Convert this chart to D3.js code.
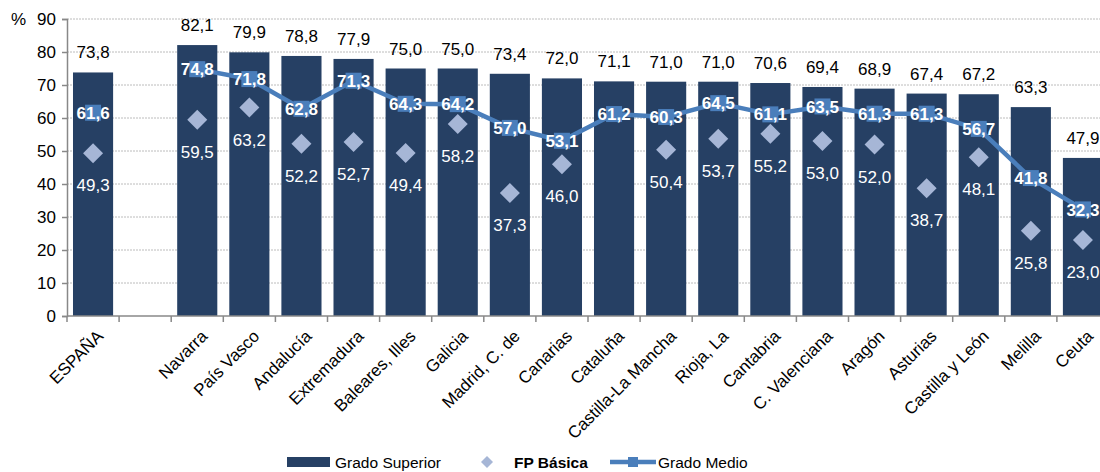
<!DOCTYPE html>
<html>
<head>
<meta charset="utf-8">
<script src="https://cdn.jsdelivr.net/npm/d3@7"></script>
<style>
  body { margin: 0; background: #fff; }
  svg { display: block; font-family: "Liberation Sans", Arial, sans-serif; }
</style>
</head>
<body>
<div id="chart"></div>
<script>
// categories (the empty slot separates ESPAÑA from the regions)
const categories = ["ESPAÑA", "", "Navarra", "País Vasco", "Andalucía", "Extremadura",
  "Baleares, Illes", "Galicia", "Madrid, C. de", "Canarias", "Cataluña",
  "Castilla-La Mancha", "Rioja, La", "Cantabria", "C. Valenciana", "Aragón",
  "Asturias", "Castilla y León", "Melilla", "Ceuta"];

const gradoSuperior = [73.8, null, 82.1, 79.9, 78.8, 77.9, 75.0, 75.0, 73.4, 72.0, 71.1,
  71.0, 71.0, 70.6, 69.4, 68.9, 67.4, 67.2, 63.3, 47.9];
const gradoMedio = [61.6, null, 74.8, 71.8, 62.8, 71.3, 64.3, 64.2, 57.0, 53.1, 61.2,
  60.3, 64.5, 61.1, 63.5, 61.3, 61.3, 56.7, 41.8, 32.3];
const fpBasica = [49.3, null, 59.5, 63.2, 52.2, 52.7, 49.4, 58.2, 37.3, 46.0, null,
  50.4, 53.7, 55.2, 53.0, 52.0, 38.7, 48.1, 25.8, 23.0];
const yTicks = [0, 10, 20, 30, 40, 50, 60, 70, 80, 90];

const W = 1100, H = 472;
const fmt = v => v.toFixed(1).replace(".", ",");

const svg = d3.select("#chart").append("svg")
  .attr("width", W).attr("height", H);

const x = d3.scaleBand().domain(d3.range(categories.length))
  .range([67, 1109]).paddingInner(0.23).paddingOuter(0.115);
const y = d3.scaleLinear().domain([0, 90]).range([316, 19]);
const cx = i => x(i) + x.bandwidth() / 2;

// gridlines
svg.append("g").selectAll("line").data(yTicks.slice(1)).join("line")
  .attr("x1", 67).attr("x2", W)
  .attr("y1", d => y(d)).attr("y2", d => y(d))
  .attr("stroke", "#bcbcbc").attr("stroke-dasharray", "2,1").attr("stroke-width", 1);

// bars
const barData = gradoSuperior.map((v, i) => ({ v, i })).filter(d => d.v != null);
svg.append("g").selectAll("rect").data(barData).join("rect")
  .attr("x", d => x(d.i)).attr("width", x.bandwidth())
  .attr("y", d => y(d.v)).attr("height", d => y(0) - y(d.v))
  .attr("fill", "#264064");

svg.append("g").selectAll("text").data(barData).join("text")
  .attr("x", d => cx(d.i)).attr("y", d => y(d.v) - 14)
  .attr("text-anchor", "middle").attr("font-size", 17).attr("fill", "#000")
  .text(d => fmt(d.v));

// y axis
const yAxis = svg.append("g").attr("transform", "translate(67,0)")
  .call(d3.axisLeft(y).tickValues(yTicks).tickSize(5).tickPadding(6));
yAxis.select(".domain").attr("stroke", "#888").attr("stroke-width", 1.5);
yAxis.selectAll(".tick line").attr("stroke", "#888").attr("stroke-width", 1.5);
yAxis.selectAll(".tick text").attr("font-size", 17).attr("fill", "#000")
  .attr("font-family", "Liberation Sans, Arial, sans-serif");
svg.append("text").attr("x", 11).attr("y", 25).attr("font-size", 17).text("%");

// x axis
const xg = svg.append("g").attr("transform", "translate(0,316)");
xg.append("line").attr("x1", 67).attr("x2", W).attr("stroke", "#888").attr("stroke-width", 1.5);
const step = x.step();
xg.selectAll("line.tk").data(d3.range(categories.length + 1)).join("line")
  .attr("class", "tk")
  .attr("x1", i => 67 + i * step).attr("x2", i => 67 + i * step)
  .attr("y1", 0).attr("y2", 6).attr("stroke", "#888").attr("stroke-width", 1.5);
xg.selectAll("text").data(categories.map((c, i) => ({ c, i })).filter(d => d.c)).join("text")
  .attr("transform", d => `translate(${cx(d.i) + 7},${17}) rotate(-45)`)
  .attr("text-anchor", "end").attr("dy", "0.35em")
  .attr("font-size", 17).attr("fill", "#000")
  .text(d => d.c);

// Grado Medio line (regions only)
const medioLine = gradoMedio.map((v, i) => ({ v, i })).filter(d => d.v != null && d.i >= 2);
svg.append("path").datum(medioLine)
  .attr("fill", "none").attr("stroke", "#4a7ebb").attr("stroke-width", 4.5)
  .attr("stroke-linejoin", "round")
  .attr("d", d3.line().x(d => cx(d.i)).y(d => y(d.v)));

const medioAll = gradoMedio.map((v, i) => ({ v, i })).filter(d => d.v != null);
svg.append("g").selectAll("rect").data(medioAll).join("rect")
  .attr("x", d => cx(d.i) - 8).attr("y", d => y(d.v) - 8)
  .attr("width", 16).attr("height", 16).attr("fill", "#4a7ebb");
svg.append("g").selectAll("text").data(medioAll).join("text")
  .attr("x", d => cx(d.i)).attr("y", d => y(d.v)).attr("dy", "0.36em")
  .attr("text-anchor", "middle").attr("font-size", 17).attr("font-weight", "bold")
  .attr("fill", "#fff").text(d => fmt(d.v));

// FP Básica diamonds
const basData = fpBasica.map((v, i) => ({ v, i })).filter(d => d.v != null);
svg.append("g").selectAll("path").data(basData).join("path")
  .attr("transform", d => `translate(${cx(d.i)},${y(d.v)})`)
  .attr("d", "M0,-10L10,0L0,10L-10,0Z").attr("fill", "#a6b6d6");
svg.append("g").selectAll("text").data(basData).join("text")
  .attr("x", d => cx(d.i)).attr("y", d => y(d.v) + 32).attr("dy", "0.36em")
  .attr("text-anchor", "middle").attr("font-size", 17).attr("fill", "#fff")
  .text(d => fmt(d.v));

// legend
const lg = svg.append("g").attr("transform", "translate(0,462)");
lg.append("rect").attr("x", 287).attr("y", -5).attr("width", 43).attr("height", 10).attr("fill", "#264064");
lg.append("text").attr("x", 335).attr("y", 0).attr("dy", "0.36em").attr("font-size", 15.5).text("Grado Superior");
lg.append("path").attr("transform", "translate(487,0)").attr("d", "M0,-6L6,0L0,6L-6,0Z").attr("fill", "#a6b6d6");
lg.append("text").attr("x", 514).attr("y", 0).attr("dy", "0.36em").attr("font-size", 15.5)
  .attr("font-weight", "bold").text("FP Básica");
lg.append("line").attr("x1", 610).attr("x2", 656).attr("stroke", "#4a7ebb").attr("stroke-width", 4.5);
lg.append("rect").attr("x", 628).attr("y", -5).attr("width", 10).attr("height", 10).attr("fill", "#4a7ebb");
lg.append("text").attr("x", 658).attr("y", 0).attr("dy", "0.36em").attr("font-size", 15.5).text("Grado Medio");
</script>
</body>
</html>
